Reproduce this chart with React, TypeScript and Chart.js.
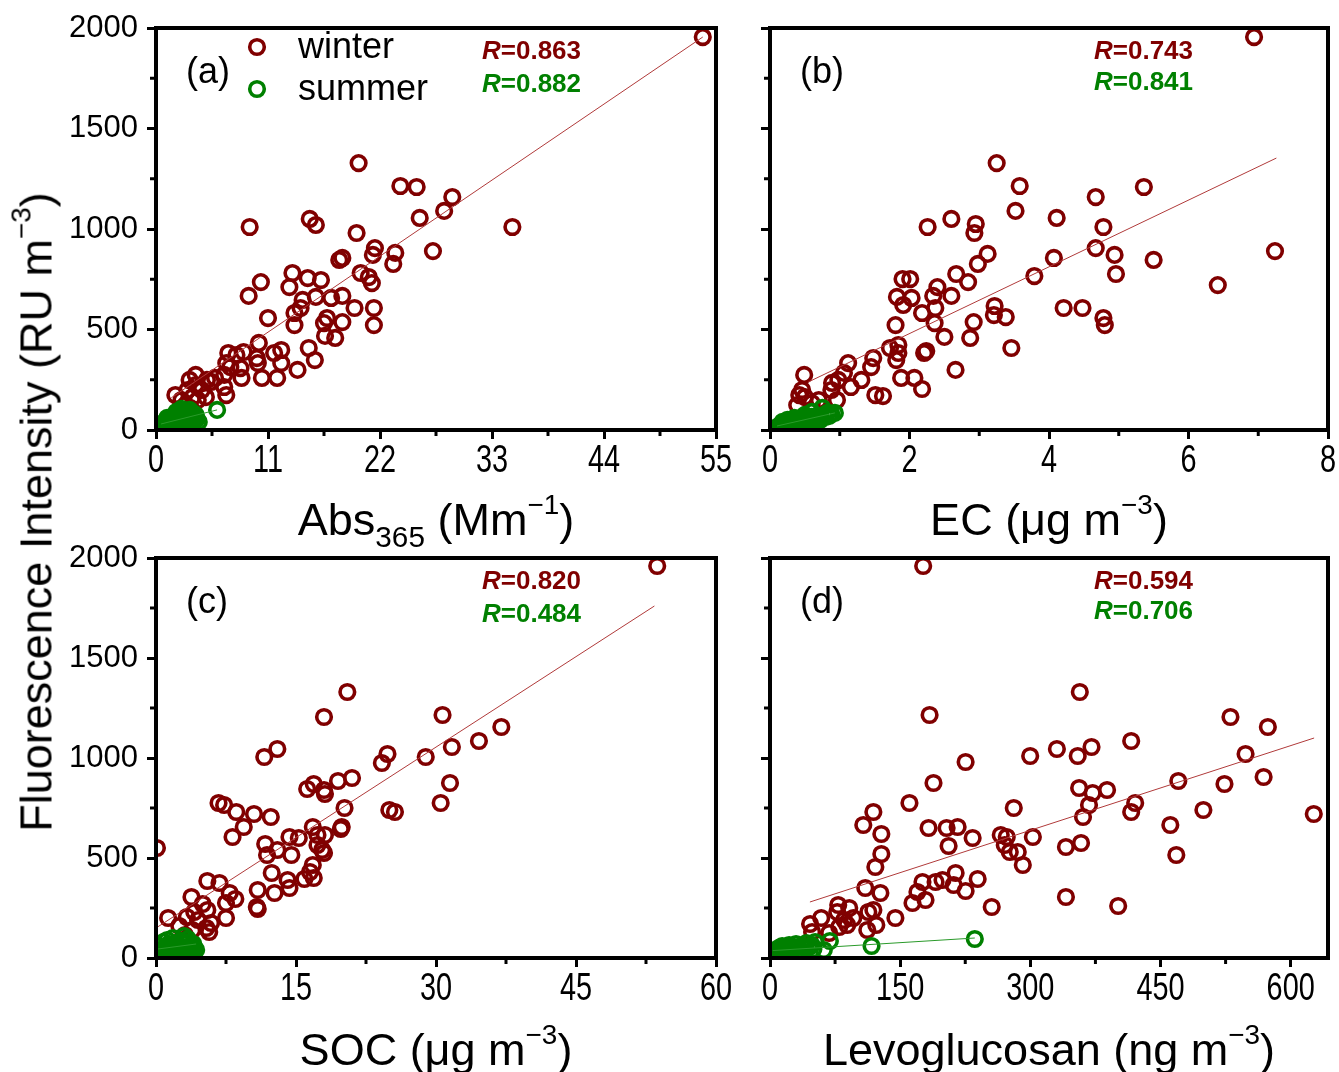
import React, { useEffect, useRef } from "react";
import { Chart, registerables } from "chart.js";

Chart.register(...registerables);

type Pt = [number, number];

const WINTER_COLOR = "#800000";
const SUMMER_COLOR = "#008000";
const WINTER_LINE = "#b03a3a";
const SUMMER_LINE = "#2a9a2a";

const Y_TICKS = [0, 500, 1000, 1500, 2000];
const Y_MINOR = [250, 750, 1250, 1750];

const ABS_TICKS = [0, 11, 22, 33, 44, 55];
const ABS_MINOR = [5.5, 16.5, 27.5, 38.5, 49.5];
const EC_TICKS = [0, 2, 4, 6, 8];
const EC_MINOR = [1, 3, 5, 7];
const SOC_TICKS = [0, 15, 30, 45, 60];
const SOC_MINOR = [7.5, 22.5, 37.5, 52.5];
const LEVO_TICKS = [0, 150, 300, 450, 600];
const LEVO_MINOR = [75, 225, 375, 525];

// (a) Abs365 (Mm-1) vs fluorescence intensity
const absWinter: Pt[] = [
  [53.7, 1955], [19.9, 1328], [24.0, 1214], [25.6, 1209], [29.1, 1159], [28.3, 1090], [25.9, 1055],
  [15.1, 1050], [15.7, 1020], [9.2, 1010], [35.0, 1010], [19.7, 980], [27.2, 890], [21.5, 905],
  [21.3, 871], [23.5, 881], [23.3, 826], [18.3, 856], [18.0, 846], [20.1, 781], [20.9, 761],
  [21.2, 731], [13.4, 781], [10.3, 736], [9.1, 667], [13.1, 711], [14.9, 756], [16.2, 746],
  [14.4, 647], [15.7, 662], [17.2, 657], [18.3, 667], [19.5, 607], [21.4, 607], [21.4, 522],
  [18.3, 537], [16.8, 557], [16.5, 532], [13.6, 522], [13.6, 582], [14.2, 607], [11.0, 557],
  [16.6, 468], [17.6, 458], [15.0, 408], [15.6, 348], [13.9, 299], [10.1, 433], [12.3, 398],
  [11.6, 383], [12.3, 333], [11.9, 259], [10.4, 259], [8.4, 259], [9.9, 358], [10.0, 333],
  [8.6, 388], [7.1, 383], [7.9, 373], [7.3, 313], [6.9, 333], [8.3, 308], [6.7, 274], [5.8, 259],
  [5.4, 239], [6.7, 214], [6.9, 174], [5.0, 249], [3.9, 274], [3.3, 249], [3.9, 224], [4.5, 199],
  [4.9, 164], [3.1, 199], [1.9, 174], [2.5, 149], [3.6, 164], [4.1, 149], [2.9, 124], [3.4, 109],
];
const absSummer: Pt[] = [
  [0.5, 20], [0.7, 35], [0.9, 25], [1.0, 45], [1.2, 30], [1.3, 55], [1.4, 20], [1.5, 40], [1.6, 65],
  [1.7, 30], [1.8, 50], [1.9, 75], [2.0, 40], [2.1, 25], [2.2, 60], [2.3, 85], [2.4, 45], [2.5, 30],
  [2.6, 70], [2.7, 55], [2.8, 95], [2.9, 40], [3.0, 65], [3.1, 80], [3.2, 50], [3.3, 100], [3.4, 70],
  [3.5, 35], [3.6, 85], [3.7, 60], [3.8, 45], [3.9, 75], [4.0, 55], [4.2, 40], [2.0, 90], [1.1, 60],
  [2.5, 105], [3.0, 30], [6.0, 100],
];
const absWinterFit: Pt[] = [[1.5, 160], [53.7, 1955]];
const absSummerFit: Pt[] = [[0.5, 30], [6.0, 100]];

// (b) EC (ug m-3)
const ecWinter: Pt[] = [
  [6.94, 1955], [3.25, 1328], [3.58, 1214], [5.36, 1209], [4.67, 1159], [3.52, 1090], [4.11, 1055],
  [2.60, 1050], [2.26, 1010], [4.78, 1010], [2.95, 1025], [2.93, 980], [7.24, 890], [4.67, 905],
  [4.94, 871], [4.07, 856], [5.50, 846], [3.12, 876], [2.98, 826], [2.67, 776], [3.79, 766],
  [4.96, 776], [2.84, 736], [6.42, 721], [1.90, 751], [2.01, 751], [2.40, 711], [2.34, 667],
  [2.60, 667], [1.82, 662], [2.03, 657], [1.91, 622], [2.37, 607], [2.18, 582], [3.22, 617],
  [3.21, 572], [3.38, 562], [4.21, 607], [4.48, 607], [4.78, 557], [4.80, 522], [2.92, 537],
  [2.36, 532], [1.80, 522], [2.50, 463], [2.87, 458], [3.46, 408], [1.84, 423], [1.84, 383],
  [1.81, 348], [1.72, 408], [2.21, 383], [2.24, 393], [1.48, 358], [1.45, 313], [2.66, 299],
  [1.88, 259], [2.07, 259], [2.18, 204], [1.51, 174], [1.62, 169], [1.12, 333], [1.31, 249],
  [1.16, 214], [1.06, 284], [0.98, 249], [0.89, 234], [0.96, 149], [0.88, 199], [0.70, 149],
  [0.49, 274], [0.46, 199], [0.42, 174], [0.39, 124], [0.50, 164], [0.60, 134],
];
const ecSummer: Pt[] = [
  [0.10, 15], [0.15, 25], [0.20, 20], [0.22, 35], [0.25, 30], [0.30, 25], [0.30, 45], [0.35, 35],
  [0.38, 50], [0.40, 30], [0.42, 40], [0.45, 55], [0.48, 45], [0.50, 35], [0.52, 60], [0.55, 50],
  [0.58, 40], [0.60, 65], [0.62, 55], [0.65, 45], [0.68, 70], [0.70, 60], [0.72, 50], [0.75, 110],
  [0.78, 75], [0.80, 65], [0.82, 85], [0.85, 70], [0.88, 80], [0.93, 85], [0.35, 60], [0.50, 75],
  [0.25, 50], [0.18, 40], [0.60, 90],
];
const ecWinterFit: Pt[] = [[0.55, 239], [7.26, 1353]];
const ecSummerFit: Pt[] = [[0.1, 20], [0.93, 85]];

// (c) SOC (ug m-3)
const socWinter: Pt[] = [
  [53.7, 1960], [20.5, 1330], [18.0, 1205], [30.7, 1215], [37.0, 1155], [34.6, 1085], [31.7, 1055],
  [28.9, 1005], [13.0, 1045], [11.6, 1005], [24.8, 1020], [24.2, 975], [31.5, 875], [30.5, 775],
  [21.0, 900], [19.5, 885], [16.9, 870], [16.2, 845], [18.1, 820], [18.0, 840], [25.0, 740],
  [25.6, 730], [6.7, 775], [7.3, 765], [8.6, 730], [10.5, 720], [12.3, 705], [9.4, 655], [8.2, 605],
  [20.2, 750], [16.8, 655], [19.9, 655], [19.8, 645], [17.3, 615], [18.1, 615], [15.3, 600],
  [14.3, 605], [11.7, 570], [11.9, 515], [13.0, 540], [14.5, 515], [17.3, 565], [17.8, 540],
  [18.0, 525], [16.8, 465], [16.5, 430], [16.9, 400], [15.9, 395], [12.4, 425], [12.7, 325],
  [14.1, 390], [14.3, 350], [10.9, 340], [10.8, 255], [10.9, 245], [5.5, 385], [6.8, 375],
  [3.8, 305], [7.9, 325], [8.5, 295], [7.5, 275], [5.0, 270], [5.5, 240], [4.1, 230], [3.3, 205],
  [4.5, 190], [5.9, 175], [7.5, 200], [5.4, 150], [5.7, 130], [1.3, 200], [2.5, 160], [3.9, 140],
  [3.1, 115], [0.1, 550],
];
const socSummer: Pt[] = [
  [0.2, 30], [0.4, 60], [0.5, 20], [0.7, 45], [0.8, 80], [1.0, 35], [1.1, 55], [1.2, 90], [1.3, 25],
  [1.5, 65], [1.6, 40], [1.8, 100], [1.9, 50], [2.0, 30], [2.1, 75], [2.3, 45], [2.4, 60], [2.5, 20],
  [2.6, 85], [2.8, 40], [2.9, 55], [3.0, 110], [3.1, 70], [3.2, 35], [3.3, 50], [3.5, 80], [3.6, 45],
  [3.7, 60], [3.8, 30], [4.0, 70], [4.1, 50], [4.3, 40], [1.4, 70], [2.2, 15], [3.4, 95],
];
const socWinterFit: Pt[] = [[0.1, 153], [53.4, 1760]];
const socSummerFit: Pt[] = [[0.2, 45], [4.3, 70]];

// (d) Levoglucosan (ng m-3)
const levoWinter: Pt[] = [
  [176.5, 1960], [357, 1330], [183.9, 1215], [530.6, 1205], [573.7, 1155], [416.2, 1085],
  [370.5, 1055], [330.6, 1045], [354.6, 1010], [299.8, 1010], [225.4, 980], [548.0, 1020],
  [470.5, 885], [523.7, 870], [568.8, 905], [188.4, 875], [356.2, 850], [371.8, 825], [388.4, 840],
  [367.6, 765], [360.7, 705], [420.8, 775], [416.2, 730], [499.4, 740], [626.6, 720], [461.3, 665],
  [468.2, 515], [280.9, 750], [160.7, 775], [119.1, 730], [107.5, 665], [128.3, 620], [128.3, 520],
  [121.4, 455], [182.7, 650], [203.5, 650], [216.2, 655], [205.8, 560], [233.5, 600], [265.9, 615],
  [272.8, 605], [270.5, 565], [276.3, 530], [285.5, 530], [291.3, 465], [302.9, 605], [341.0, 555],
  [358.4, 575], [341.0, 305], [401.2, 260], [255.5, 255], [239.3, 395], [225.4, 335], [213.9, 425],
  [211.6, 365], [198.8, 390], [190.8, 380], [175.7, 380], [169.9, 330], [179.2, 290], [164.2, 275],
  [144.5, 200], [127.2, 325], [109.8, 350], [119.1, 240], [113.3, 230], [122.5, 165], [112.1, 140],
  [91.3, 250], [78.6, 265], [77.5, 230], [96.0, 200], [85.5, 190], [79.8, 155], [89.0, 165],
  [59.0, 200], [46.2, 170], [48.5, 130], [68.2, 125],
];
const levoSummer: Pt[] = [
  [3, 15], [5, 30], [6, 20], [8, 40], [9, 25], [10, 50], [12, 35], [13, 20], [14, 60], [15, 45],
  [17, 30], [18, 55], [20, 40], [22, 65], [24, 30], [25, 50], [27, 45], [30, 70], [32, 55], [35, 40],
  [38, 60], [40, 50], [42, 75], [45, 55], [48, 65], [50, 45], [52, 80], [62, 40], [69, 85], [117, 60],
  [236, 95],
];
const levoWinterFit: Pt[] = [[46, 280], [627, 1100]];
const levoSummerFit: Pt[] = [[3, 37], [236, 100]];

const FONT = '"Liberation Sans", Arial, Helvetica, sans-serif';

interface PanelSpec {
  tag: string;
  left: number;
  top: number;
  width: number;
  height: number;
  yAxisWidth: number;
  xAxisHeight: number;
  padRight: number;
  showYLabels: boolean;
  xMax: number;
  xTicks: number[];
  xMinor: number[];
  winter: Pt[];
  summer: Pt[];
  winterFit: Pt[];
  summerFit: Pt[];
  rWinter: string;
  rSummer: string;
  rOffsetX: number;
  rGap: number;
  legend: boolean;
}

const PANELS: PanelSpec[] = [
  {
    tag: "(a)", left: 0, top: 0, width: 740, height: 500, yAxisWidth: 156, xAxisHeight: 70, padRight: 24,
    showYLabels: true, xMax: 55, xTicks: ABS_TICKS, xMinor: ABS_MINOR,
    winter: absWinter, summer: absSummer, winterFit: absWinterFit, summerFit: absSummerFit,
    rWinter: "0.863", rSummer: "0.882", rOffsetX: 326, rGap: 33, legend: true,
  },
  {
    tag: "(b)", left: 740, top: 0, width: 599, height: 500, yAxisWidth: 30, xAxisHeight: 70, padRight: 11,
    showYLabels: false, xMax: 8, xTicks: EC_TICKS, xMinor: EC_MINOR,
    winter: ecWinter, summer: ecSummer, winterFit: ecWinterFit, summerFit: ecSummerFit,
    rWinter: "0.743", rSummer: "0.841", rOffsetX: 324, rGap: 31, legend: false,
  },
  {
    tag: "(c)", left: 0, top: 530, width: 740, height: 490, yAxisWidth: 156, xAxisHeight: 62, padRight: 24,
    showYLabels: true, xMax: 60, xTicks: SOC_TICKS, xMinor: SOC_MINOR,
    winter: socWinter, summer: socSummer, winterFit: socWinterFit, summerFit: socSummerFit,
    rWinter: "0.820", rSummer: "0.484", rOffsetX: 326, rGap: 33, legend: false,
  },
  {
    tag: "(d)", left: 740, top: 530, width: 599, height: 490, yAxisWidth: 30, xAxisHeight: 62, padRight: 11,
    showYLabels: false, xMax: 643, xTicks: LEVO_TICKS, xMinor: LEVO_MINOR,
    winter: levoWinter, summer: levoSummer, winterFit: levoWinterFit, summerFit: levoSummerFit,
    rWinter: "0.594", rSummer: "0.706", rOffsetX: 324, rGap: 30, legend: false,
  },
];

const toXY = (pts: Pt[]) => pts.map(([x, y]) => ({ x, y }));

const POINT_R = 7.3;
const POINT_BW = 3.6;

function Panel({ spec }: { spec: PanelSpec }) {
  const ref = useRef<HTMLCanvasElement | null>(null);

  useEffect(() => {
    const canvas = ref.current;
    if (!canvas) return;

    const decor = {
      id: "decor" + spec.tag,
      afterDatasetsDraw(chart: any) {
        const { ctx, chartArea: a, scales } = chart;
        ctx.save();
        ctx.strokeStyle = "#000";
        ctx.lineWidth = 3;
        ctx.lineCap = "butt";
        for (const v of spec.xMinor) {
          const x = scales.x.getPixelForValue(v);
          ctx.beginPath();
          ctx.moveTo(x, a.bottom);
          ctx.lineTo(x, a.bottom + 6);
          ctx.stroke();
        }
        for (const v of Y_MINOR) {
          const y = scales.y.getPixelForValue(v);
          ctx.beginPath();
          ctx.moveTo(a.left - 6, y);
          ctx.lineTo(a.left, y);
          ctx.stroke();
        }
        ctx.lineWidth = 4;
        ctx.strokeRect(a.left, a.top, a.right - a.left, a.bottom - a.top);

        // x tick labels (condensed, as in the original figure)
        ctx.fillStyle = "#000";
        ctx.font = `38px ${FONT}`;
        ctx.textAlign = "center";
        ctx.textBaseline = "top";
        for (const v of spec.xTicks) {
          const x = scales.x.getPixelForValue(v);
          ctx.save();
          ctx.translate(x, a.bottom + 13);
          ctx.scale(0.76, 1);
          ctx.fillText(String(v), 0, 0);
          ctx.restore();
        }

        ctx.textBaseline = "middle";
        ctx.textAlign = "left";
        ctx.font = `36px ${FONT}`;
        ctx.fillText(spec.tag, a.left + 30, a.top + 45);

        if (spec.legend) {
          ctx.lineWidth = POINT_BW;
          ctx.strokeStyle = WINTER_COLOR;
          ctx.beginPath();
          ctx.arc(a.left + 101, a.top + 19, POINT_R, 0, Math.PI * 2);
          ctx.stroke();
          ctx.strokeStyle = SUMMER_COLOR;
          ctx.beginPath();
          ctx.arc(a.left + 101, a.top + 61, POINT_R, 0, Math.PI * 2);
          ctx.stroke();
          ctx.fillStyle = "#000";
          ctx.font = `36px ${FONT}`;
          ctx.fillText("winter", a.left + 142, a.top + 20);
          ctx.fillText("summer", a.left + 142, a.top + 62);
        }

        const drawR = (val: string, color: string, y: number) => {
          const x0 = a.left + spec.rOffsetX;
          ctx.fillStyle = color;
          ctx.font = `italic bold 26px ${FONT}`;
          ctx.fillText("R", x0, y);
          const w = ctx.measureText("R").width;
          ctx.font = `bold 26px ${FONT}`;
          ctx.fillText("=" + val, x0 + w, y);
        };
        drawR(spec.rWinter, WINTER_COLOR, a.top + 24);
        drawR(spec.rSummer, SUMMER_COLOR, a.top + 24 + spec.rGap);
        ctx.restore();
      },
    };

    const scatterBase = {
      type: "scatter",
      backgroundColor: "rgba(0,0,0,0)",
      pointBackgroundColor: "rgba(0,0,0,0)",
      pointRadius: POINT_R,
      pointHoverRadius: POINT_R,
      pointBorderWidth: POINT_BW,
      borderWidth: POINT_BW,
      clip: { left: 0, bottom: 0, top: 12, right: 12 },
    };

    const chart = new Chart(canvas, {
      type: "scatter",
      data: {
        datasets: [
          { ...scatterBase, label: "winter", data: toXY(spec.winter), borderColor: WINTER_COLOR, pointBorderColor: WINTER_COLOR, order: 3 } as any,
          { ...scatterBase, label: "summer", data: toXY(spec.summer), borderColor: SUMMER_COLOR, pointBorderColor: SUMMER_COLOR, order: 2 } as any,
          {
            type: "line",
            label: "winter fit",
            data: toXY(spec.winterFit),
            borderColor: WINTER_LINE,
            borderWidth: 1,
            pointRadius: 0,
            fill: false,
            order: 1,
          } as any,
          {
            type: "line",
            label: "summer fit",
            data: toXY(spec.summerFit),
            borderColor: SUMMER_LINE,
            borderWidth: 1,
            pointRadius: 0,
            fill: false,
            order: 0,
          } as any,
        ],
      },
      options: {
        responsive: false,
        animation: false,
        events: [],
        layout: { padding: { left: 0, right: spec.padRight, top: 28, bottom: 0 } },
        plugins: { legend: { display: false }, tooltip: { enabled: false }, title: { display: false } },
        scales: {
          x: {
            type: "linear",
            min: 0,
            max: spec.xMax,
            afterBuildTicks: (s: any) => {
              s.ticks = spec.xTicks.map((v) => ({ value: v }));
            },
            afterFit: (s: any) => {
              s.height = spec.xAxisHeight;
              s.paddingLeft = 0;
              s.paddingRight = 0;
            },
            grid: {
              display: true,
              drawOnChartArea: false,
              drawTicks: true,
              tickLength: 9,
              tickWidth: 3,
              tickColor: "#000",
            },
            border: { display: false },
            ticks: {
              color: "#000",
              font: { family: FONT, size: 36 },
              padding: 2,
              maxRotation: 0,
              autoSkip: false,
              callback: () => "",
            },
          },
          y: {
            type: "linear",
            min: 0,
            max: 2000,
            afterBuildTicks: (s: any) => {
              s.ticks = Y_TICKS.map((v) => ({ value: v }));
            },
            afterFit: (s: any) => {
              s.width = spec.yAxisWidth;
              s.paddingTop = 0;
              s.paddingBottom = 0;
            },
            grid: {
              display: true,
              drawOnChartArea: false,
              drawTicks: true,
              tickLength: 9,
              tickWidth: 3,
              tickColor: "#000",
            },
            border: { display: false },
            ticks: {
              color: "#000",
              font: { family: FONT, size: 31 },
              padding: 9,
              autoSkip: false,
              callback: (v: any) => (spec.showYLabels ? String(v) : ""),
            },
          },
        },
      },
      plugins: [decor],
    } as any);

    return () => chart.destroy();
  }, [spec]);

  return (
    <canvas
      ref={ref}
      width={spec.width}
      height={spec.height}
      style={{ position: "absolute", left: spec.left, top: spec.top, width: spec.width, height: spec.height }}
    />
  );
}

const supStyle: React.CSSProperties = {
  fontSize: "0.62em",
  position: "relative",
  top: "-0.75em",
  verticalAlign: "baseline",
  lineHeight: 0,
};
const subStyle: React.CSSProperties = {
  fontSize: "0.66em",
  position: "relative",
  top: "0.4em",
  verticalAlign: "baseline",
  lineHeight: 0,
};

const titleBase: React.CSSProperties = {
  position: "absolute",
  font: `45px ${FONT}`,
  lineHeight: "45px",
  whiteSpace: "nowrap",
  color: "#000",
  transform: "translateX(-50%)",
};

export default function App() {
  return (
    <div
      style={{
        position: "absolute",
        left: 0,
        top: 0,
        width: 1339,
        height: 1072,
        background: "#fff",
        overflow: "hidden",
      }}
    >
      {PANELS.map((p) => (
        <Panel key={p.tag} spec={p} />
      ))}
      <div
        style={{
          position: "absolute",
          left: 36,
          top: 512,
          font: `45px ${FONT}`,
          lineHeight: "45px",
          whiteSpace: "nowrap",
          transform: "translate(-50%, -50%) rotate(-90deg)",
          color: "#000",
        }}
      >
        Fluorescence Intensity (RU m<span style={supStyle}>−3</span>)
      </div>
      <div style={{ ...titleBase, left: 436, top: 497 }}>
        Abs<span style={subStyle}>365</span> (Mm<span style={supStyle}>−1</span>)
      </div>
      <div style={{ ...titleBase, left: 1049, top: 497 }}>
        EC (μg m<span style={supStyle}>−3</span>)
      </div>
      <div style={{ ...titleBase, left: 436, top: 1027 }}>
        SOC (μg m<span style={supStyle}>−3</span>)
      </div>
      <div style={{ ...titleBase, left: 1049, top: 1027 }}>
        Levoglucosan (ng m<span style={supStyle}>−3</span>)
      </div>
    </div>
  );
}
